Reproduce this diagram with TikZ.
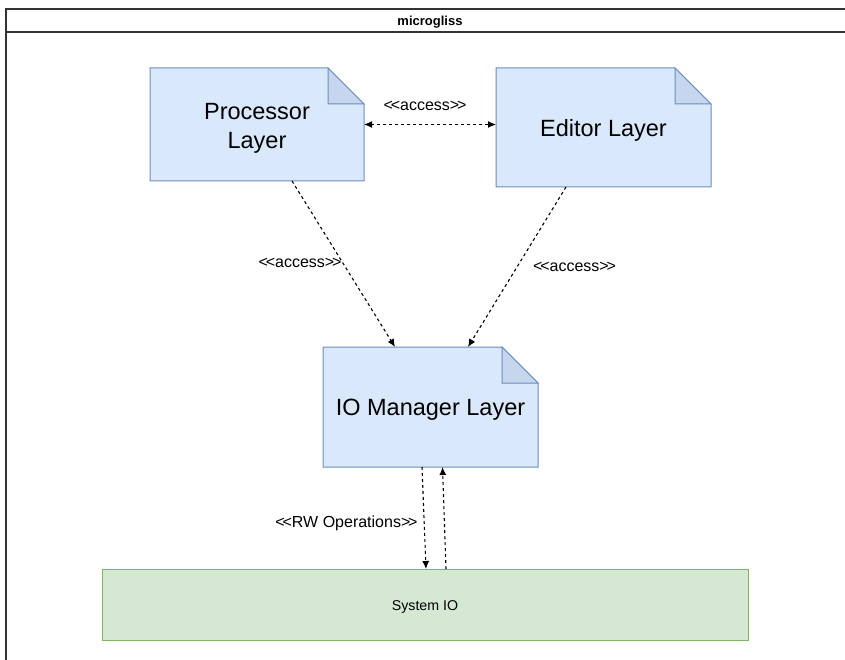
\documentclass[tikz,border=0pt]{standalone}
\usepackage{fontspec}
\setmainfont{Liberation Sans}
\usetikzlibrary{arrows.meta}

\definecolor{notefill}{HTML}{DAE8FC}
\definecolor{notefold}{HTML}{C6D6EE}
\definecolor{notestroke}{HTML}{6C8EBF}
\definecolor{iofill}{HTML}{D5E8D4}
\definecolor{iostroke}{HTML}{82B366}
\definecolor{framegray}{HTML}{333333}

% outline of a folded-corner note around a named node
\newcommand\drawnote[1]{%
  \filldraw[notestroke, fill=notefill, line width=1pt, line join=miter]
    (#1.south west) -- (#1.north west) -- ([xshift=-36pt]#1.north east)
    -- ([yshift=-36pt]#1.north east) -- (#1.south east) -- cycle;
  \filldraw[notestroke, fill=notefold, line width=1pt, line join=miter]
    ([xshift=-36pt]#1.north east) -- ([xshift=-36pt,yshift=-36pt]#1.north east)
    -- ([yshift=-36pt]#1.north east) -- cycle;
}
% stereotype brackets, set tight and kept apart so they are not joined into guillemets
\newcommand\stereo[1]{<\kern-2.2pt<#1>\kern-2.2pt>}

\begin{document}
\begin{tikzpicture}[x=1pt, y=-1pt,
  notebox/.style={inner sep=0pt, outer sep=0pt, align=center,
    font=\fontsize{23.5}{29}\selectfont},
  sysbox/.style={draw=iostroke, fill=iofill, line width=1pt, inner sep=0pt,
    outer sep=0pt, minimum width=646pt, minimum height=71pt,
    font=\fontsize{14.2}{17}\selectfont},
  conn/.style={line width=1.1pt, dash pattern=on 3pt off 3pt,
    -{Latex[length=8pt,width=7pt]}},
  biconn/.style={line width=1.1pt, dash pattern=on 3pt off 3pt,
    {Latex[length=8pt,width=7pt]}-{Latex[length=8pt,width=7pt]}},
  lbl/.style={font=\fontsize{16}{19}\selectfont, inner sep=0pt}]

\path[use as bounding box] (0,0) rectangle (845,660);
\fill[white] (0,0) rectangle (845,660);

% container frame with its title bar
\draw[framegray, line width=1.3pt] (845,9) -- (6,9) -- (6,660);
\draw[framegray, line width=1.3pt] (6,32) -- (845,32);
\node[font=\bfseries\fontsize{13}{15}\selectfont, inner sep=0pt] (title) at (430,22) {microgliss};

% layers
\node[notebox, minimum width=214pt, minimum height=113pt] (proc) at (257,124.5) {};
\drawnote{proc}
\node[notebox, yshift=-3.5pt] (proctext) at (proc.center) {Processor\\Layer};

\node[notebox, minimum width=215pt, minimum height=119pt] (edit) at (603.5,127.5) {};
\drawnote{edit}
\node[notebox, yshift=-2.5pt] (edittext) at (edit.center) {Editor Layer};

\node[notebox, minimum width=215pt, minimum height=120pt] (iom) at (430.5,407) {};
\drawnote{iom}
\node[notebox, yshift=-3pt] (iomtext) at (iom.center) {IO Manager Layer};

\node[sysbox, text depth=0pt] (sys) at (425,604.5) {\raisebox{-3pt}{System IO}};

% dependencies
\draw[biconn] (proc.east) -- (proc.east -| edit.west);
\node[lbl] (l1) at (425,106) {\stereo{access}};

\draw[conn] ([xshift=35pt]proc.south) -- ([xshift=-35.5pt]iom.north);
\node[lbl] (l2) at (300,263) {\stereo{access}};

\draw[conn] ([xshift=-37.5pt]edit.south) -- ([xshift=37.5pt]iom.north);
\node[lbl] (l3) at (574.5,266.5) {\stereo{access}};

\draw[conn] ([xshift=-8.5pt]iom.south) -- ([xshift=1pt]sys.north);
\draw[conn] ([xshift=21pt]sys.north) -- ([xshift=12pt]iom.south);
\node[lbl] (l4) at (346.5,523) {\stereo{RW Operations}};
\end{tikzpicture}
\end{document}
